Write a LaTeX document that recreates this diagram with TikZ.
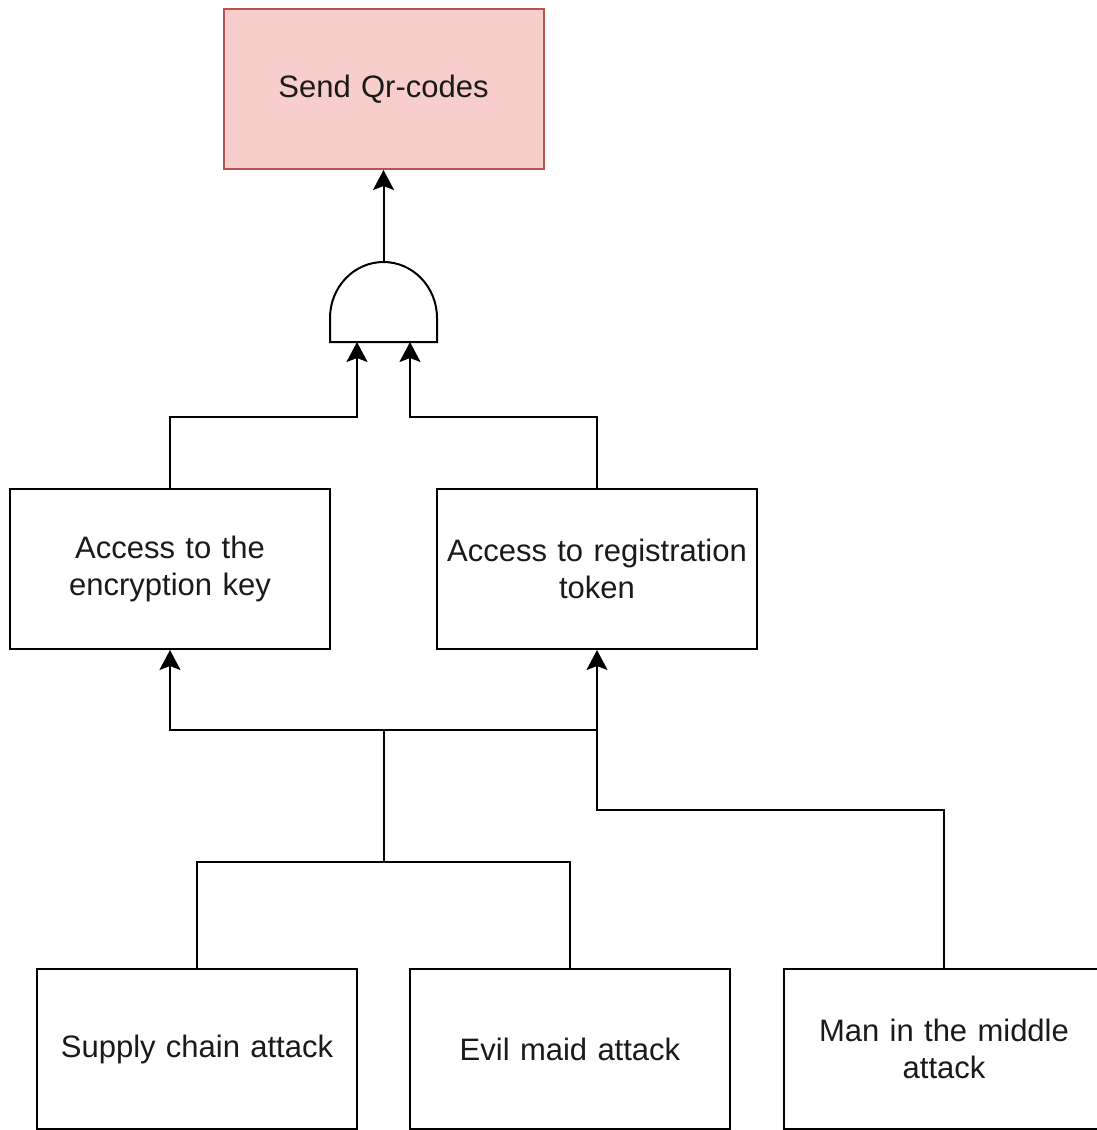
\documentclass[tikz,border=0pt]{standalone}
\usepackage{fontspec}
\setmainfont{Liberation Sans}
\usetikzlibrary{arrows.meta}
\definecolor{redfill}{HTML}{F8CECC}
\definecolor{redline}{HTML}{B85450}
\definecolor{txt}{HTML}{1A1A1A}
\begin{document}
\begin{tikzpicture}[x=1pt,y=-1pt,
  line width=2pt,
  box/.style={draw=black, fill=white, minimum width=320pt, minimum height=160pt,
    inner sep=0pt, align=center, text width=310pt, text=txt,
    font=\fontsize{31}{37}\selectfont},
  goal/.style={box, draw=redline, fill=redfill},
  link/.style={draw=black, line width=2pt},
  arr/.style={link, -{Stealth[length=20pt,width=21pt,inset=4pt]}}]
\useasboundingbox (0,0) rectangle (1097,1130);
\clip (0,0) rectangle (1097,1130);

% goal
\node[goal] (send) at (383.5,89) {Send Qr-codes};

% AND gate (y axis points down, so the dome runs through 270 degrees)
\draw[link, fill=white] (330,342) -- (330,318)
  arc[start angle=180, end angle=360, x radius=53.5, y radius=56] -- (437,342) -- cycle;
\coordinate (gout) at (383.5,262);
\coordinate (gin1) at (357,342);
\coordinate (gin2) at (410,342);

% intermediate events
\node[box] (key) at (170,569) {Access to the\\encryption key};
\node[box] (tok) at (597,569) {Access to registration\\token};

% basic events
\node[box] (sup) at (197,1049) {\raisebox{-2pt}{Supply chain attack}};
\node[box] (evil) at (570,1049) {\raisebox{-2pt}{Evil maid attack}};
\node[box] (mitm) at (944,1049) {Man in the middle\\attack};

\coordinate (j) at (383.5,730);

% gate to goal
\draw[arr] (gout) -- (send.south);
% inputs to gate
\draw[arr] (key.north) |- (357,417) -- (gin1);
\draw[arr] (tok.north) |- (410,417) -- (gin2);

% shared attacks to both access events
\draw[link] (sup.north) |- (383.5,862) -| (evil.north);
\draw[link] (383.5,862) -- (j);
\draw[arr] (j) -| (key.south);
\draw[arr] (j) -| (tok.south);
\draw[link] (mitm.north) |- (597,810) -- (597,730);
\end{tikzpicture}
\end{document}
